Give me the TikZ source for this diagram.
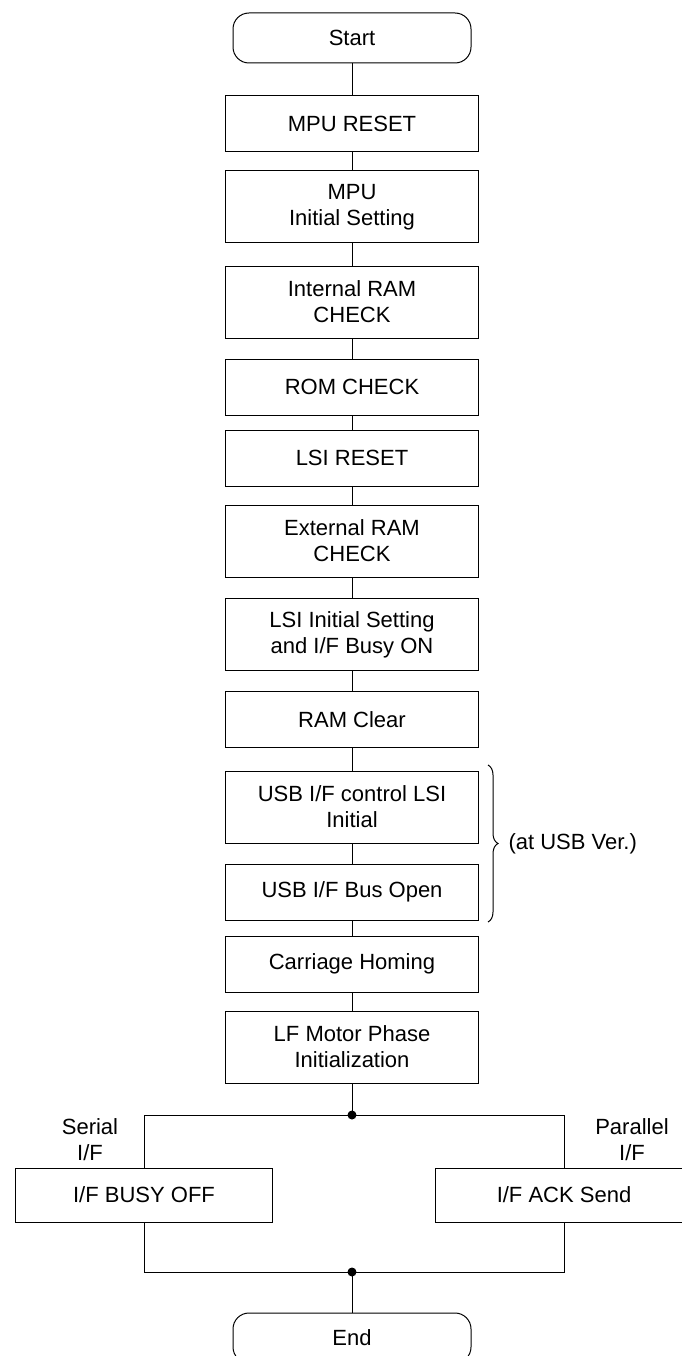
\documentclass[tikz,border=0pt]{standalone}
\usepackage{fontspec}
\setmainfont{Liberation Sans}
\usetikzlibrary{decorations.pathreplacing}

\begin{document}
\begin{tikzpicture}[x=1pt, y=-1pt, line width=1pt,
    font=\fontsize{22}{26}\selectfont,
    terminal/.style={draw, rounded corners=16, minimum width=238, minimum height=50, inner sep=0},
    stepbox/.style={draw, align=center, minimum width=253, minimum height=56, inner sep=0},
    tallbox/.style={stepbox, minimum height=72},
    branchbox/.style={stepbox, minimum width=257, minimum height=54},
    sidelabel/.style={align=center, inner sep=0}]
\useasboundingbox (0,0) rectangle (682,1356);

% main column
\node[terminal] (start) at (352,38) {Start};
\node[stepbox] (reset) at (352,124) {MPU RESET};
\node[tallbox] (mpuinit) at (352,207) {MPU\\Initial Setting};
\node[tallbox] (iram) at (352,302) {Internal RAM\\CHECK};
\node[stepbox] (rom) at (352,387) {ROM CHECK};
\node[stepbox] (lsireset) at (352,458) {LSI RESET};
\node[tallbox] (eram) at (352,541) {External RAM\\CHECK};
\node[tallbox] (lsiinit) at (352,634.5) {LSI Initial Setting\\and I/F Busy ON};
\node[stepbox] (ramclr) at (352,719.5) {RAM Clear};
\node[tallbox] (usbinit) at (352,807) {USB I/F control LSI\\Initial};
\node[stepbox] (usbbus) at (352,892) {USB I/F Bus Open};
\node[stepbox] (homing) at (352,964) {Carriage Homing};
\node[tallbox] (lfphase) at (352,1047) {LF Motor Phase\\Initialization};

\foreach \a/\b in {start/reset, reset/mpuinit, mpuinit/iram, iram/rom, rom/lsireset,
    lsireset/eram, eram/lsiinit, lsiinit/ramclr, ramclr/usbinit, usbinit/usbbus,
    usbbus/homing, homing/lfphase}
    \draw (\a) -- (\b);

% USB only steps
\draw[decorate, decoration={brace, amplitude=10}] (488,765) -- (488,922)
    node[midway, anchor=west, inner sep=0, xshift=20] {(at USB Ver.)};

% interface branches
\coordinate (split) at (352,1115);
\coordinate (join) at (352,1272);
\node[branchbox] (serial) at (144,1195) {I/F BUSY OFF};
\node[branchbox] (parallel) at (564,1195) {I/F ACK Send};
\node[sidelabel] (seriallabel) at (90,1140) {Serial\\I/F};
\node[sidelabel] (parallellabel) at (632,1140) {Parallel\\I/F};

\draw (lfphase) -- (split);
\draw (split) -| (serial);
\draw (split) -| (parallel);
\draw (serial) |- (join) -| (parallel);
\fill (split) circle (4.5);
\fill (join) circle (4.5);

\node[terminal] (end) at (352,1338) {End};
\draw (join) -- (end);
\end{tikzpicture}
\end{document}
